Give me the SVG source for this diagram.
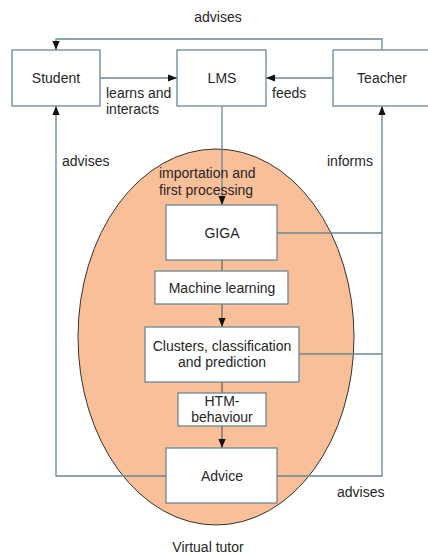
<svg xmlns="http://www.w3.org/2000/svg" width="428" height="556" viewBox="0 0 428 556">
<defs>
<marker id="ah" viewBox="0 0 10 10" refX="10" refY="5" markerWidth="9" markerHeight="9" markerUnits="userSpaceOnUse" orient="auto">
<path d="M0,1 L10,5 L0,9 z" fill="#111"/>
</marker>
<style>
.box{fill:#fff;stroke:#6b8794;stroke-width:1.3}
.ln{fill:none;stroke:#6b8794;stroke-width:1.3}
.dk{fill:none;stroke:#555;stroke-width:1.1}
text{font-family:"Liberation Sans",Arial,sans-serif;font-size:14px;fill:#262626}
.c{text-anchor:middle}
</style>
</defs>
<rect width="428" height="556" fill="#fff"/>
<g id="virtual-tutor">
<ellipse cx="216" cy="337" rx="138" ry="188" fill="#f9bf98" stroke="#333" stroke-width="1"/>
<text class="c" x="208" y="552">Virtual tutor</text>
</g>
<g id="connectors">
<polyline class="ln" points="382,50 382,39 56,39 56,50" marker-end="url(#ah)"/>
<line class="ln" x1="100" y1="78" x2="177" y2="78" marker-end="url(#ah)"/>
<line class="ln" x1="333" y1="78" x2="266" y2="78" marker-end="url(#ah)"/>
<line class="ln" x1="222" y1="106" x2="222" y2="205" marker-end="url(#ah)"/>
<line class="dk" x1="222" y1="260" x2="222" y2="271"/>
<line class="dk" x1="222" y1="304" x2="222" y2="327" marker-end="url(#ah)"/>
<line class="dk" x1="222" y1="382" x2="222" y2="393"/>
<line class="dk" x1="222" y1="426" x2="222" y2="448" marker-end="url(#ah)"/>
<polyline class="ln" points="277,233 382,233"/>
<polyline class="ln" points="299,354 382,354"/>
<polyline class="ln" points="277,476 382,476 382,106" marker-end="url(#ah)"/>
<polyline class="ln" points="166,476 56,476 56,106" marker-end="url(#ah)"/>
<text class="c" x="218" y="22">advises</text>
<text x="106" y="98">learns and</text>
<text x="106" y="114">interacts</text>
<text x="272" y="98">feeds</text>
<text x="62" y="166">advises</text>
<text x="327" y="166">informs</text>
<text x="159" y="178">importation and</text>
<text x="159" y="195">first processing</text>
<text x="337" y="497">advises</text>
</g>
<g id="student"><rect class="box" x="12" y="50" width="88" height="56"/><text class="c" x="56" y="83">Student</text></g>
<g id="lms"><rect class="box" x="177" y="50" width="89" height="56"/><text class="c" x="222" y="83">LMS</text></g>
<g id="teacher"><rect class="box" x="333" y="50" width="96" height="56"/><text class="c" x="382" y="83">Teacher</text></g>
<g id="giga"><rect class="box" x="166" y="205" width="111" height="55"/><text class="c" x="222" y="238">GIGA</text></g>
<g id="ml"><rect class="box" x="155" y="271" width="133" height="33"/><text class="c" x="222" y="293">Machine learning</text></g>
<g id="clusters"><rect class="box" x="145" y="327" width="154" height="55"/><text class="c" x="222" y="351">Clusters, classification</text><text class="c" x="222" y="367">and prediction</text></g>
<g id="htm"><rect class="box" x="178" y="393" width="88" height="33"/><text class="c" x="222" y="406">HTM-</text><text class="c" x="222" y="422">behaviour</text></g>
<g id="advice"><rect class="box" x="166" y="448" width="111" height="55"/><text class="c" x="222" y="481">Advice</text></g>
</svg>
